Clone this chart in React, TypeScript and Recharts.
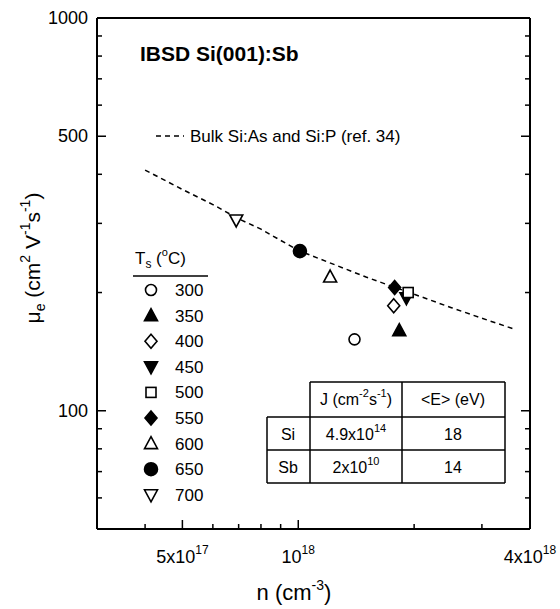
import React from 'react';
import { ScatterChart, Scatter, XAxis, YAxis, Customized } from 'recharts';

// IBSD Si(001):Sb electron mobility vs carrier density
const temperatures = [300, 350, 400, 450, 500, 550, 600, 650, 700];
const densities = [1.4e18, 1.83e18, 1.77e18, 1.91e18, 1.93e18, 1.78e18, 1.21e18, 1.01e18, 6.9e17];
const mobilities = [152, 160, 185, 194, 200, 206, 219, 255, 306];
const markerKinds = [
  'circleOpen',
  'triUpFilled',
  'diamondOpen',
  'triDownFilled',
  'squareOpen',
  'diamondFilled',
  'triUpOpen',
  'circleFilled',
  'triDownOpen',
];

// bulk Si:As and Si:P reference curve
const bulkDensities = [4e17, 5e17, 6e17, 7e17, 8e17, 1e18, 1.5e18, 2e18, 2.5e18, 3e18, 3.6e18];
const bulkMobilities = [410, 366, 335, 308, 290, 256, 219, 198, 183, 172, 162];

// axes
const xTicks = [4e17, 5e17, 6e17, 7e17, 8e17, 9e17, 1e18, 2e18, 3e18, 4e18];
const xMajor = [5e17, 1e18, 4e18];
const xLabels: Record<string, [string, string]> = {
  '500000000000000000': ['5x10', '17'],
  '1000000000000000000': ['10', '18'],
  '4000000000000000000': ['4x10', '18'],
};
const yTicks = [60, 70, 80, 90, 100, 200, 300, 400, 500, 600, 700, 800, 900, 1000];
const yMajor = [100, 500, 1000];

// inset table
const species = ['Si', 'Sb'];
const fluxMantissa = ['4.9x10', '2x10'];
const fluxExponent = ['14', '10'];
const energies = ['18', '14'];

const FONT = 'Arial, "Liberation Sans", Helvetica, sans-serif';

const series = temperatures.map((t, i) => ({
  t,
  kind: markerKinds[i],
  data: [{ n: densities[i], mu: mobilities[i] }],
}));
const bulkData = bulkDensities.map((n, i) => ({ n, mu: bulkMobilities[i] }));

function Marker({ kind, cx, cy }: { kind: string; cx: number; cy: number }) {
  const filled = kind.endsWith('Filled');
  const fill = filled ? '#000' : '#fff';
  const common = { fill, stroke: '#000', strokeWidth: 1.6 };
  if (kind.startsWith('circle')) return <circle cx={cx} cy={cy} r={filled ? 6.5 : 5.5} {...common} />;
  if (kind.startsWith('square')) return <rect x={cx - 5} y={cy - 5} width={10} height={10} {...common} />;
  if (kind.startsWith('diamond'))
    return <polygon points={`${cx},${cy - 7} ${cx + 6},${cy} ${cx},${cy + 7} ${cx - 6},${cy}`} {...common} />;
  if (kind.startsWith('triUp'))
    return <polygon points={`${cx},${cy - 7} ${cx + 6.5},${cy + 5} ${cx - 6.5},${cy + 5}`} {...common} />;
  return <polygon points={`${cx},${cy + 7} ${cx + 6.5},${cy - 5} ${cx - 6.5},${cy - 5}`} {...common} />;
}

const BottomTick = (props: any) => {
  const { x, y, payload } = props;
  const v = payload.value;
  const major = xMajor.includes(v);
  const lab = xLabels[String(Math.round(v))];
  return (
    <g>
      <line x1={x} x2={x} y1={y} y2={y - (major ? 9 : 5)} stroke="#000" strokeWidth={1.5} />
      {lab && (
        <text x={x} y={y + 34} textAnchor="middle" fontSize={18} fontFamily={FONT} fill="#000">
          <tspan>{lab[0]}</tspan>
          <tspan dy={-9} fontSize={12}>{lab[1]}</tspan>
        </text>
      )}
    </g>
  );
};

const TopTick = (props: any) => {
  const { x, y, payload } = props;
  const major = xMajor.includes(payload.value);
  return <line x1={x} x2={x} y1={y} y2={y + (major ? 9 : 5)} stroke="#000" strokeWidth={1.5} />;
};

const LeftTick = (props: any) => {
  const { x, y, payload } = props;
  const v = payload.value;
  const major = yMajor.includes(v);
  return (
    <g>
      <line x1={x} x2={x + (major ? 9 : 5)} y1={y} y2={y} stroke="#000" strokeWidth={1.5} />
      {major && (
        <text x={x - 9} y={y + 6} textAnchor="end" fontSize={18} fontFamily={FONT} fill="#000">
          {v}
        </text>
      )}
    </g>
  );
};

const RightTick = (props: any) => {
  const { x, y, payload } = props;
  const major = yMajor.includes(payload.value);
  return <line x1={x} x2={x - (major ? 9 : 5)} y1={y} y2={y} stroke="#000" strokeWidth={1.5} />;
};

const Overlay = () => {
  const rowY = [382, 417, 450, 483];
  const colX = [267, 310, 402, 505];
  const ln = { stroke: '#000', strokeWidth: 1.5 };
  return (
    <g fontFamily={FONT} fill="#000">
      <text x={140} y={61} fontSize={21} fontWeight="bold">IBSD Si(001):Sb</text>

      <line x1={156} x2={184} y1={136} y2={136} stroke="#000" strokeWidth={1.5} strokeDasharray="5 4" />
      <text x={190} y={142} fontSize={17}>Bulk Si:As and Si:P (ref. 34)</text>

      {/* Ts legend */}
      <text x={135} y={264} fontSize={17}>
        <tspan>T</tspan>
        <tspan dy={4} fontSize={12}>s</tspan>
        <tspan dy={-4}> (</tspan>
        <tspan dy={-8} fontSize={11}>o</tspan>
        <tspan dy={8}>C)</tspan>
      </text>
      <line x1={133} x2={208} y1={276} y2={276} {...ln} />
      {series.map((s, i) => {
        const cy = 290 + i * 25.6;
        return (
          <g key={s.t}>
            <Marker kind={s.kind} cx={151} cy={cy} />
            <text x={175} y={cy + 6} fontSize={17}>{s.t}</text>
          </g>
        );
      })}

      {/* inset table */}
      <line x1={colX[1]} x2={colX[3]} y1={rowY[0]} y2={rowY[0]} {...ln} />
      {rowY.slice(1).map((y) => (
        <line key={y} x1={colX[0]} x2={colX[3]} y1={y} y2={y} {...ln} />
      ))}
      <line x1={colX[0]} x2={colX[0]} y1={rowY[1]} y2={rowY[3]} {...ln} />
      {colX.slice(1).map((x) => (
        <line key={x} x1={x} x2={x} y1={rowY[0]} y2={rowY[3]} {...ln} />
      ))}
      <text x={356} y={405} fontSize={16} textAnchor="middle">
        <tspan>J (cm</tspan>
        <tspan dy={-8} fontSize={11}>-2</tspan>
        <tspan dy={8}>s</tspan>
        <tspan dy={-8} fontSize={11}>-1</tspan>
        <tspan dy={8}>)</tspan>
      </text>
      <text x={453} y={405} fontSize={16} textAnchor="middle">{'<E> (eV)'}</text>
      {species.map((sp, i) => {
        const y = rowY[i + 1] + 23;
        return (
          <g key={sp}>
            <text x={288} y={y} fontSize={16} textAnchor="middle">{sp}</text>
            <text x={356} y={y} fontSize={16} textAnchor="middle">
              <tspan>{fluxMantissa[i]}</tspan>
              <tspan dy={-8} fontSize={11}>{fluxExponent[i]}</tspan>
            </text>
            <text x={453} y={y} fontSize={16} textAnchor="middle">{energies[i]}</text>
          </g>
        );
      })}

      {/* axis titles */}
      <text x={294} y={600} fontSize={22} textAnchor="middle">
        <tspan>n (cm</tspan>
        <tspan dy={-10} fontSize={14}>-3</tspan>
        <tspan dy={10}>)</tspan>
      </text>
      <text x={40} y={258} fontSize={21} textAnchor="middle" transform="rotate(-90, 40, 258)">
        <tspan>μ</tspan>
        <tspan dy={5} fontSize={14}>e</tspan>
        <tspan dy={-5}> (cm</tspan>
        <tspan dy={-10} fontSize={14}>2</tspan>
        <tspan dy={10}> V</tspan>
        <tspan dy={-10} fontSize={14}>-1</tspan>
        <tspan dy={10}>s</tspan>
        <tspan dy={-10} fontSize={14}>-1</tspan>
        <tspan dy={10}>)</tspan>
      </text>
    </g>
  );
};

export default function App() {
  const axisLine = { stroke: '#000', strokeWidth: 2 };
  return (
    <div style={{ position: 'absolute', left: 0, top: 0, background: '#fff' }}>
      <ScatterChart width={560} height={609} margin={{ top: 8, right: 20, bottom: 20, left: 37 }}>
        <XAxis
          xAxisId={0}
          dataKey="n"
          type="number"
          scale="log"
          domain={[3e17, 4e18]}
          allowDataOverflow
          ticks={xTicks}
          interval={0}
          height={60}
          tickSize={0}
          tickMargin={0}
          axisLine={axisLine}
          tickLine={false}
          tick={<BottomTick />}
        />
        <XAxis
          xAxisId="top"
          orientation="top"
          type="number"
          scale="log"
          domain={[3e17, 4e18]}
          allowDataOverflow
          ticks={xTicks}
          interval={0}
          height={10}
          tickSize={0}
          tickMargin={0}
          axisLine={axisLine}
          tickLine={false}
          tick={<TopTick />}
        />
        <YAxis
          yAxisId={0}
          dataKey="mu"
          type="number"
          scale="log"
          domain={[50, 1000]}
          allowDataOverflow
          ticks={yTicks}
          interval={0}
          width={60}
          tickSize={0}
          tickMargin={0}
          axisLine={axisLine}
          tickLine={false}
          tick={<LeftTick />}
        />
        <YAxis
          yAxisId="right"
          orientation="right"
          type="number"
          scale="log"
          domain={[50, 1000]}
          allowDataOverflow
          ticks={yTicks}
          interval={0}
          width={10}
          tickSize={0}
          tickMargin={0}
          axisLine={axisLine}
          tickLine={false}
          tick={<RightTick />}
        />
        <Scatter
          data={bulkData}
          line={{ stroke: '#000', strokeWidth: 1.5, strokeDasharray: '5 4' }}
          lineType="joint"
          shape={() => <g />}
          isAnimationActive={false}
        />
        {series.map((s) => (
          <Scatter
            key={s.t}
            name={String(s.t)}
            data={s.data}
            isAnimationActive={false}
            shape={(p: any) => <Marker kind={s.kind} cx={p.cx} cy={p.cy} />}
          />
        ))}
        <Customized component={Overlay} />
      </ScatterChart>
    </div>
  );
}
